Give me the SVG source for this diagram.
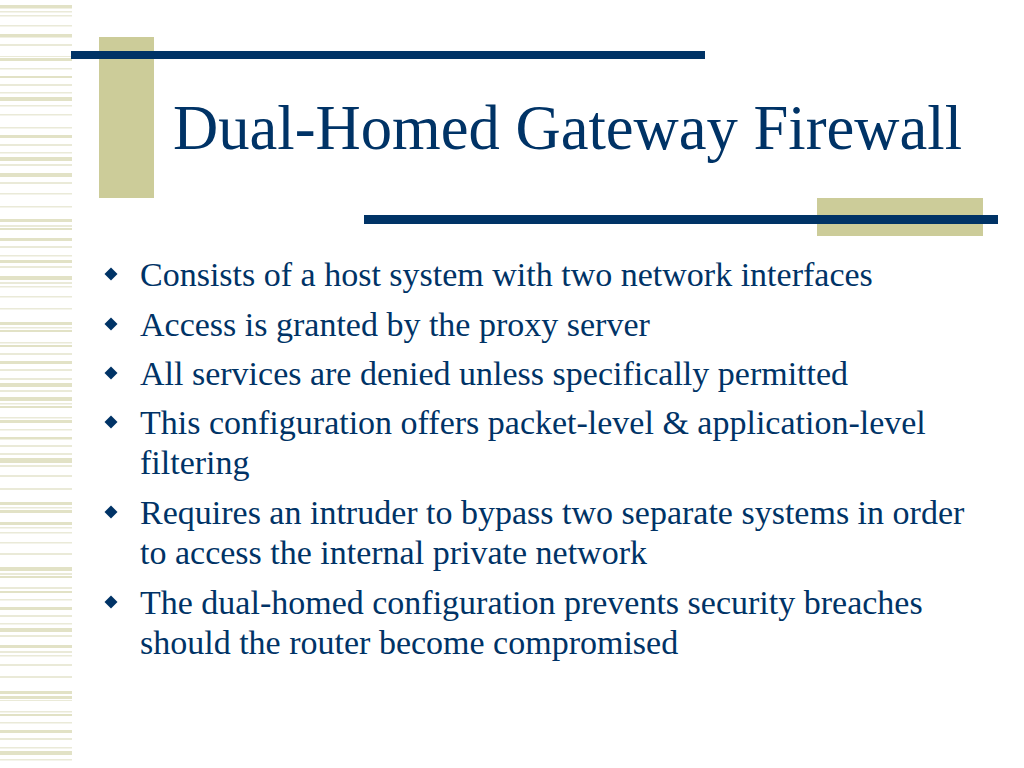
<svg xmlns="http://www.w3.org/2000/svg" width="1024" height="768" viewBox="0 0 1024 768">
<style>
.s{fill:#E2E2C6}
.t{fill:#EAEAD8}
.title{font-family:"Liberation Serif","Times New Roman",serif;font-size:62.6px;fill:#003366}
.body{font-family:"Liberation Serif","Times New Roman",serif;font-size:34px;fill:#003366}
.tan{fill:#CCCC99}
.navy{fill:#003366}
</style>
<defs>
<path id="dia" d="M0,-6.5 L6.5,0 L0,6.5 L-6.5,0 Z" fill="#003366"/>
</defs>
<rect width="1024" height="768" fill="#FFFFFF"/>
<g id="stripes">
<rect class="s" x="0" y="5" width="72" height="3.5"/>
<rect class="t" x="0" y="11" width="72" height="1.5"/>
<rect class="t" x="0" y="15" width="72" height="1.5"/>
<rect class="t" x="0" y="25" width="72" height="1.5"/>
<rect class="s" x="0" y="34" width="72" height="3.5"/>
<rect class="t" x="0" y="44" width="72" height="2"/>
<rect class="t" x="0" y="56" width="72" height="1"/>
<rect class="s" x="0" y="58" width="72" height="3"/>
<rect class="t" x="0" y="68" width="72" height="1.5"/>
<rect class="s" x="0" y="76" width="72" height="2"/>
<rect class="t" x="0" y="84" width="72" height="2"/>
<rect class="t" x="0" y="92" width="72" height="1.5"/>
<rect class="s" x="0" y="97" width="72" height="4"/>
<rect class="t" x="0" y="105" width="72" height="1.5"/>
<rect class="t" x="0" y="114" width="72" height="1.5"/>
<rect class="t" x="0" y="127" width="72" height="1.5"/>
<rect class="s" x="0" y="135" width="72" height="3"/>
<rect class="t" x="0" y="144" width="72" height="2"/>
<rect class="t" x="0" y="152" width="72" height="1.5"/>
<rect class="s" x="0" y="157" width="72" height="4"/>
<rect class="t" x="0" y="164" width="72" height="2"/>
<rect class="s" x="0" y="173" width="72" height="4"/>
<rect class="t" x="0" y="182" width="72" height="2"/>
<rect class="t" x="0" y="193" width="72" height="1.5"/>
<rect class="t" x="0" y="206" width="72" height="1.5"/>
<rect class="s" x="0" y="219" width="72" height="3"/>
<rect class="t" x="0" y="225" width="72" height="2"/>
<rect class="s" x="0" y="228" width="72" height="2"/>
<rect class="s" x="0" y="238" width="72" height="3"/>
<rect class="t" x="0" y="246" width="72" height="2"/>
<rect class="t" x="0" y="255" width="72" height="1.5"/>
<rect class="s" x="0" y="260" width="72" height="3"/>
<rect class="t" x="0" y="266" width="72" height="2"/>
<rect class="s" x="0" y="276" width="72" height="4"/>
<rect class="t" x="0" y="282" width="72" height="2"/>
<rect class="t" x="0" y="286" width="72" height="1.5"/>
<rect class="t" x="0" y="296" width="72" height="1.5"/>
<rect class="t" x="0" y="308" width="72" height="1.5"/>
<rect class="s" x="0" y="322" width="72" height="3"/>
<rect class="t" x="0" y="327" width="72" height="1.5"/>
<rect class="s" x="0" y="330" width="72" height="2"/>
<rect class="t" x="0" y="342" width="72" height="1.5"/>
<rect class="s" x="0" y="345" width="72" height="2"/>
<rect class="t" x="0" y="353" width="72" height="2"/>
<rect class="s" x="0" y="361" width="72" height="3"/>
<rect class="t" x="0" y="369" width="72" height="2"/>
<rect class="t" x="0" y="378" width="72" height="2"/>
<rect class="s" x="0" y="383" width="72" height="4"/>
<rect class="t" x="0" y="390" width="72" height="2"/>
<rect class="s" x="0" y="397" width="72" height="4"/>
<rect class="t" x="0" y="403" width="72" height="1.5"/>
<rect class="s" x="0" y="406" width="72" height="2"/>
<rect class="t" x="0" y="417" width="72" height="1.5"/>
<rect class="s" x="0" y="420" width="72" height="3"/>
<rect class="t" x="0" y="429" width="72" height="1.5"/>
<rect class="s" x="0" y="437" width="72" height="2.5"/>
<rect class="t" x="0" y="445" width="72" height="2"/>
<rect class="t" x="0" y="453" width="72" height="2"/>
<rect class="s" x="0" y="458" width="72" height="5"/>
<rect class="t" x="0" y="465" width="72" height="2"/>
<rect class="t" x="0" y="475" width="72" height="2"/>
<rect class="t" x="0" y="488" width="72" height="2"/>
<rect class="s" x="0" y="502" width="72" height="3"/>
<rect class="t" x="0" y="507" width="72" height="1.5"/>
<rect class="s" x="0" y="510" width="72" height="3"/>
<rect class="s" x="0" y="522" width="72" height="3"/>
<rect class="t" x="0" y="527" width="72" height="1.5"/>
<rect class="t" x="0" y="532" width="72" height="1.5"/>
<rect class="t" x="0" y="542" width="72" height="1.5"/>
<rect class="t" x="0" y="553" width="72" height="2"/>
<rect class="s" x="0" y="567" width="72" height="4"/>
<rect class="t" x="0" y="573" width="72" height="2"/>
<rect class="s" x="0" y="576" width="72" height="2"/>
<rect class="t" x="0" y="587" width="72" height="2"/>
<rect class="s" x="0" y="591" width="72" height="2"/>
<rect class="t" x="0" y="599" width="72" height="1.5"/>
<rect class="s" x="0" y="607" width="72" height="3"/>
<rect class="t" x="0" y="615" width="72" height="2"/>
<rect class="t" x="0" y="623" width="72" height="1.5"/>
<rect class="s" x="0" y="628" width="72" height="4"/>
<rect class="t" x="0" y="635" width="72" height="2"/>
<rect class="s" x="0" y="645" width="72" height="3"/>
<rect class="t" x="0" y="651" width="72" height="2"/>
<rect class="t" x="0" y="655" width="72" height="1.5"/>
<rect class="t" x="0" y="664" width="72" height="2"/>
<rect class="t" x="0" y="676" width="72" height="2"/>
<rect class="s" x="0" y="691" width="72" height="3"/>
<rect class="s" x="0" y="696" width="72" height="3"/>
<rect class="t" x="0" y="700" width="72" height="1"/>
<rect class="t" x="0" y="711" width="72" height="1.5"/>
<rect class="s" x="0" y="714" width="72" height="2"/>
<rect class="t" x="0" y="722" width="72" height="1.5"/>
<rect class="s" x="0" y="730" width="72" height="3"/>
<rect class="t" x="0" y="738" width="72" height="2"/>
<rect class="t" x="0" y="747" width="72" height="1.5"/>
<rect class="s" x="0" y="751" width="72" height="4"/>
<rect class="t" x="0" y="759" width="72" height="1.5"/>
</g>
<g id="decor">
<rect class="tan" x="99" y="37" width="55" height="161"/>
<rect class="navy" x="71" y="51" width="634" height="8"/>
<rect class="tan" x="817" y="198" width="166" height="38"/>
<rect class="navy" x="364" y="215" width="634" height="9"/>
</g>
<g id="title">
<text class="title" x="173" y="149">Dual-Homed Gateway Firewall</text>
</g>
<g id="bullets">
<use href="#dia" x="111" y="274"/>
<use href="#dia" x="111" y="324"/>
<use href="#dia" x="111" y="373"/>
<use href="#dia" x="111" y="422"/>
<use href="#dia" x="111" y="512"/>
<use href="#dia" x="111" y="602"/>
</g>
<g id="body">
<text class="body" x="140" y="286">Consists of a host system with two network interfaces</text>
<text class="body" x="140" y="336">Access is granted by the proxy server</text>
<text class="body" x="140" y="385">All services are denied unless specifically permitted</text>
<text class="body" x="140" y="434">This configuration offers packet-level &amp; application-level</text>
<text class="body" x="140" y="474">filtering</text>
<text class="body" x="140" y="524">Requires an intruder to bypass two separate systems in order</text>
<text class="body" x="140" y="564">to access the internal private network</text>
<text class="body" x="140" y="614">The dual-homed configuration prevents security breaches</text>
<text class="body" x="140" y="654">should the router become compromised</text>
</g>
</svg>
